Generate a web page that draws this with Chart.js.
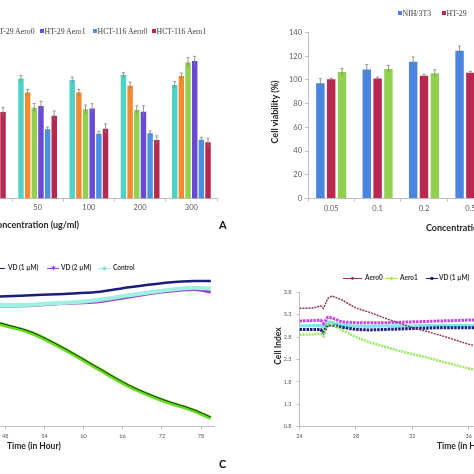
<!DOCTYPE html>
<html>
<head>
<meta charset="utf-8">
<script src="https://cdn.jsdelivr.net/npm/chart.js@4.4.1/dist/chart.umd.min.js"></script>
<style>
body { margin: 0; background: #fff; }
#fig { position: relative; width: 474px; height: 474px; overflow: hidden; background: #fff; font-family: Lato, "Open Sans", sans-serif; }
canvas { position: absolute; }
.t { position: absolute; white-space: nowrap; line-height: 1; }
.b { font-weight: bold; color: #262626; }
.leg { font-family: "Liberation Serif", "DejaVu Serif", serif; font-size: 7.8px; color: #404040; }
.sq { display: inline-block; width: 3.5px; height: 3.5px; margin-right: 1px; vertical-align: 1px; }
.lg2 { font-size: 6.5px; font-weight: bold; color: #333; }
.ln { position: absolute; height: 1.5px; }
.mk { position: absolute; font-size: 6px; line-height: 1; transform: translate(-50%, -50%); }
</style>
</head>
<body>
<div id="fig">
  <canvas id="cA" width="260" height="240" style="left:-40px;top:0"></canvas>
  <canvas id="cB" width="320" height="240" style="left:240px;top:0"></canvas>
  <canvas id="cC" width="260" height="234" style="left:-40px;top:240px"></canvas>
  <canvas id="cD" width="410" height="234" style="left:240px;top:240px"></canvas>

  <!-- panel A legend -->
  <span class="t leg" style="left:-122px;top:27.5px"><span class="sq" style="background:#4fd1c5"></span>NIH/3T3 Aero0</span>
  <span class="t leg" style="left:-67px;top:27.5px"><span class="sq" style="background:#f28a30"></span>NIH/3T3 Aero1</span>
  <span class="t leg" style="left:-11px;top:27.5px"><span class="sq" style="background:#92d050"></span>HT-29 Aero0</span>
  <span class="t leg" style="left:40px;top:27.5px"><span class="sq" style="background:#6a49d8"></span>HT-29 Aero1</span>
  <span class="t leg" style="left:93px;top:27.5px"><span class="sq" style="background:#4a90e2"></span>HCT-116 Aero0</span>
  <span class="t leg" style="left:152px;top:27.5px"><span class="sq" style="background:#b5294e"></span>HCT-116 Aero1</span>
  <span class="t b" style="right:395px;top:219.5px;font-size:9px">Concentration (ug/ml)</span>
  <span class="t b" style="left:219px;top:218.5px;font-size:11px;color:#111">A</span>

  <!-- panel B legend and titles -->
  <span class="t leg" style="left:398px;top:9.5px"><span class="sq" style="background:#4a86e0"></span>NIH/3T3</span>
  <span class="t leg" style="left:442px;top:9.5px"><span class="sq" style="background:#b8284f"></span>HT-29</span>
  <span class="t b" style="left:426px;top:222.5px;font-size:9px">Concentration (ug/ml)</span>
  <span class="t b" style="left:274px;top:112px;font-size:9px;transform:translate(-50%,-50%) rotate(-90deg)">Cell viability (%)</span>

  <!-- panel C legend and titles -->
  <span class="ln" style="left:-6px;top:267.5px;width:11px;background:#1c1c7c"></span>
  <span class="t lg2" style="left:8px;top:264.8px">VD (1 µM)</span>
  <span class="ln" style="left:47px;top:267.5px;width:12px;background:#a040d0"></span>
  <span class="mk" style="left:53px;top:268px;color:#a040d0">✱</span>
  <span class="t lg2" style="left:61px;top:264.8px">VD (2 µM)</span>
  <span class="ln" style="left:98px;top:267.5px;width:13px;background:#9ef0e0"></span>
  <span class="mk" style="left:104.5px;top:268px;color:#7fe0d0">◆</span>
  <span class="t lg2" style="left:113px;top:264.8px">Control</span>
  <span class="t b" style="left:7px;top:441.5px;font-size:8.5px">Time (in Hour)</span>
  <span class="t b" style="left:219px;top:457.5px;font-size:11px;color:#111">C</span>

  <!-- panel D legend and titles -->
  <span class="ln" style="left:343px;top:277.5px;width:19px;background:#8b3a5e"></span>
  <span class="mk" style="left:352.5px;top:278px;color:#8b3a5e">●</span>
  <span class="t lg2" style="left:365px;top:274.8px">Aero0</span>
  <span class="ln" style="left:385px;top:277.5px;width:13px;background:#99e860"></span>
  <span class="mk" style="left:391.5px;top:278px;color:#99e860">●</span>
  <span class="t lg2" style="left:400px;top:274.8px">Aero1</span>
  <span class="ln" style="left:426px;top:277.5px;width:12px;background:#1a1a80"></span>
  <span class="mk" style="left:432px;top:278px;color:#1a1a80">■</span>
  <span class="t lg2" style="left:439px;top:274.8px">VD (1 µM)</span>
  <span class="t b" style="left:437px;top:441.5px;font-size:8.5px">Time (in Hour)</span>
  <span class="t b" style="left:278px;top:346px;font-size:8.5px;transform:translate(-50%,-50%) rotate(-90deg)">Cell Index</span>
</div>

<script>
// --- PANEL A: viability of three lines, two compounds ---
const aLabels = ['25', '50', '100', '200', '300'];
const aSeries = ['NIH/3T3 Aero0', 'NIH/3T3 Aero1', 'HT-29 Aero0', 'HT-29 Aero1', 'HCT-116 Aero0', 'HCT-116 Aero1'];
const aColors = ['#4fd1c5', '#f28a30', '#92d050', '#6a49d8', '#4a90e2', '#b5294e'];
const aValues = [
    [102, 101.3, 99.9, 104.1, 95.7],
    [96, 89.5, 89.5, 95.1, 103.3],
    [90, 76.6, 75.2, 74.6, 114.8],
    [88, 78, 76, 73.2, 115.9],
    [80, 58.3, 54.6, 55, 49.6],
    [72.9, 69.8, 58.9, 49.3, 47.4]
];
const aErrors = [
    [3, 2.5, 2.5, 2, 3],
    [2.5, 2.5, 2.5, 3, 2.5],
    [4, 3.5, 3.5, 3.5, 4],
    [4, 4, 4, 5, 4],
    [2, 2, 2, 2, 2],
    [4, 4, 4, 3.5, 3.5]
];

// --- PANEL B ---
const bLabels = ['0.05', '0.1', '0.2', '0.5', '1'];
const bSeries = ['NIH/3T3', 'HT-29', 'HCT-116'];
const bColors = ['#4a86e0', '#b8284f', '#92d050'];
const bValues = [
    [97.1, 108.9, 115.3, 124.6, 128],
    [100.5, 101.3, 103.5, 106.1, 107],
    [106.7, 109.2, 105.6, 108, 110]
];
const bErrors = [
    [4, 4, 4, 4, 4],
    [1, 1, 1.2, 1, 1],
    [3, 3, 3, 3, 3]
];
const bTicks = [0, 20, 40, 60, 80, 100, 120, 140];

// --- PANEL C: cell index, long run ---
const cHours = [42, 47, 52, 57, 62, 67, 72, 77, 79.5];
const cSeries = ['Aero0', 'Aero1', 'VD (1 µM)', 'VD (2 µM)', 'Control'];
const cColors = ['#2a2a1e', '#5fdc1c', '#1c1c7c', '#a040d0', '#9ef0e0'];
const cValues = [
    [3.37, 3.12, 2.91, 2.55, 2.13, 1.72, 1.41, 1.17, 1.01],
    [3.35, 3.10, 2.89, 2.53, 2.11, 1.70, 1.39, 1.15, 0.99],
    [3.68, 3.70, 3.73, 3.76, 3.80, 3.91, 4.00, 4.05, 4.05],
    [3.48, 3.49, 3.50, 3.55, 3.58, 3.69, 3.80, 3.86, 3.80],
    [3.50, 3.51, 3.52, 3.56, 3.62, 3.73, 3.83, 3.90, 3.88]
];
const cTicks = [42, 48, 54, 60, 66, 72, 78];

// --- PANEL D: cell index, first hours ---
const dHours = [24, 25, 25.5, 25.7, 26, 26.3, 27, 28, 29, 30, 31, 32, 33, 34, 35, 36, 37];
const dSeries = ['Aero0', 'Aero1', 'VD (1 µM)', 'VD (2 µM)', 'Control'];
const dColors = ['#8b3a5e', '#99e860', '#1a1a80', '#d040e8', '#7fe6f0'];
const dValues = [
    [3.44, 3.45, 3.50, 3.44, 3.66, 3.72, 3.63, 3.45, 3.35, 3.23, 3.12, 3.01, 2.93, 2.84, 2.74, 2.64, 2.56],
    [2.85, 2.86, 2.88, 2.82, 3.08, 3.10, 2.96, 2.80, 2.68, 2.59, 2.50, 2.42, 2.35, 2.26, 2.18, 2.10, 2.02],
    [2.97, 2.97, 2.97, 2.90, 3.07, 3.07, 3.02, 2.97, 2.96, 2.97, 2.98, 2.99, 3.00, 3.01, 3.01, 3.01, 3.01],
    [3.16, 3.17, 3.18, 3.10, 3.24, 3.23, 3.14, 3.12, 3.12, 3.12, 3.13, 3.14, 3.15, 3.16, 3.17, 3.18, 3.18],
    [3.05, 3.06, 3.06, 3.02, 3.14, 3.13, 3.07, 3.04, 3.04, 3.05, 3.05, 3.05, 3.06, 3.06, 3.06, 3.06, 3.06]
];
const dYTicks = [0.8, 1.3, 1.8, 2.3, 2.8, 3.3, 3.8];
const dXTicks = [24, 28, 32, 36, 40, 44, 48];

// --- HELPERS ---
const AXIS_GREY = '#bfbfbf';
const fixW = w => s => { s.width = w; };
const fixH = h => s => { s.height = h; };
const setTicks = arr => s => { s.ticks = arr.map(v => ({ value: v })); };

// error bars drawn from each dataset's `errors` array
const errorBars = {
    id: 'errorBars',
    afterDatasetsDraw(chart) {
        const ctx = chart.ctx;
        const y = chart.scales.y;
        ctx.save();
        ctx.strokeStyle = '#808080';
        ctx.lineWidth = 0.8;
        chart.data.datasets.forEach((ds, i) => {
            if (!ds.errors) return;
            chart.getDatasetMeta(i).data.forEach((bar, j) => {
                const v = ds.data[j], e = ds.errors[j];
                const top = y.getPixelForValue(v + e);
                const bot = y.getPixelForValue(v - e);
                ctx.beginPath();
                ctx.moveTo(bar.x, bot);
                ctx.lineTo(bar.x, top);
                ctx.moveTo(bar.x - 1.5, top);
                ctx.lineTo(bar.x + 1.5, top);
                ctx.stroke();
            });
        });
        ctx.restore();
    }
};

const base = {
    responsive: false,
    animation: false,
    devicePixelRatio: 1,
    plugins: { legend: { display: false }, tooltip: { enabled: false } }
};

const tickFont = size => ({ family: 'Lato', size: size });

// --- PANEL A ---
new Chart(document.getElementById('cA'), {
    type: 'bar',
    data: {
        labels: aLabels,
        datasets: aSeries.map((name, i) => ({
            label: name,
            data: aValues[i],
            errors: aErrors[i],
            backgroundColor: aColors[i],
            categoryPercentage: 0.78,
            barPercentage: 0.82
        }))
    },
    options: Object.assign({}, base, {
        layout: { padding: { left: 0.75, right: 3, top: 32.5, bottom: 11.5 } },
        scales: {
            x: {
                afterFit: fixH(30),
                border: { color: AXIS_GREY },
                grid: { drawOnChartArea: false, tickLength: 3, color: AXIS_GREY, offset: true },
                ticks: { font: tickFont(7.5), color: '#595959', padding: 2 }
            },
            y: { display: false, min: 0, max: 140 }
        }
    }),
    plugins: [errorBars]
});

// --- PANEL B ---
new Chart(document.getElementById('cB'), {
    type: 'bar',
    data: {
        labels: bLabels,
        datasets: bSeries.map((name, i) => ({
            label: name,
            data: bValues[i],
            errors: bErrors[i],
            backgroundColor: bColors[i],
            categoryPercentage: 0.7,
            barPercentage: 0.78
        }))
    },
    options: Object.assign({}, base, {
        layout: { padding: { left: 0, right: 20, top: 32.5, bottom: 11.5 } },
        scales: {
            x: {
                afterFit: fixH(30),
                border: { color: AXIS_GREY },
                grid: { drawOnChartArea: false, tickLength: 3, color: AXIS_GREY, offset: true },
                ticks: { font: tickFont(7.5), color: '#595959', padding: 3 }
            },
            y: {
                min: 0, max: 140,
                afterFit: fixW(68),
                afterBuildTicks: setTicks(bTicks),
                border: { color: AXIS_GREY },
                grid: { drawOnChartArea: false, tickLength: 3, color: AXIS_GREY },
                ticks: { font: tickFont(7.5), color: '#595959', padding: 3 }
            }
        }
    }),
    plugins: [errorBars]
});

// --- PANEL C ---
const cWidths = [1, 4, 2.5, 3, 4];
const cOrder = [0, 1, 2, 4, 3]; // control band sits over the 2 µM line
new Chart(document.getElementById('cC'), {
    type: 'line',
    data: {
        datasets: cSeries.map((name, i) => ({
            label: name,
            data: cHours.map((h, k) => ({ x: h, y: cValues[i][k] })),
            borderColor: cColors[i],
            borderWidth: cWidths[i],
            order: cOrder[i],
            pointRadius: 0,
            cubicInterpolationMode: 'monotone'
        }))
    },
    options: Object.assign({}, base, {
        layout: { padding: { left: 5.8, right: 5.93, top: 34.2, bottom: 17.5 } },
        scales: {
            x: {
                type: 'linear', min: 42, max: 80,
                afterFit: fixH(30),
                afterBuildTicks: setTicks(cTicks),
                border: { color: AXIS_GREY },
                grid: { drawOnChartArea: false, tickLength: 3, color: AXIS_GREY },
                ticks: { font: tickFont(5.5), color: '#595959', padding: 3 }
            },
            y: { display: false, min: 0.8, max: 4.2 }
        }
    })
});

// --- PANEL D ---
const dWidths = [1.5, 2.5, 3, 3, 3];
const dDash = [[2, 1], [2, 1], [2.5, 1], [2.5, 1], []];
new Chart(document.getElementById('cD'), {
    type: 'line',
    data: {
        datasets: dSeries.map((name, i) => ({
            label: name,
            data: dHours.map((h, k) => ({ x: h, y: dValues[i][k] })),
            borderColor: dColors[i],
            borderWidth: dWidths[i],
            borderDash: dDash[i],
            pointRadius: 0,
            tension: 0
        }))
    },
    options: Object.assign({}, base, {
        layout: { padding: { left: 0, right: 12.1, top: 52.3, bottom: 17.3 } },
        scales: {
            x: {
                type: 'linear', min: 24, max: 48,
                afterFit: fixH(30),
                afterBuildTicks: setTicks(dXTicks),
                border: { color: AXIS_GREY },
                grid: { drawOnChartArea: false, tickLength: 3, color: AXIS_GREY },
                ticks: { font: tickFont(5.5), color: '#595959', padding: 3 }
            },
            y: {
                min: 0.8, max: 3.8,
                afterFit: fixW(59.5),
                afterBuildTicks: setTicks(dYTicks),
                border: { color: AXIS_GREY },
                grid: { drawOnChartArea: false, tickLength: 3, color: AXIS_GREY },
                ticks: { font: tickFont(5.5), color: '#595959', padding: 5, callback: v => v.toFixed(1) }
            }
        }
    })
});
</script>
</body>
</html>
